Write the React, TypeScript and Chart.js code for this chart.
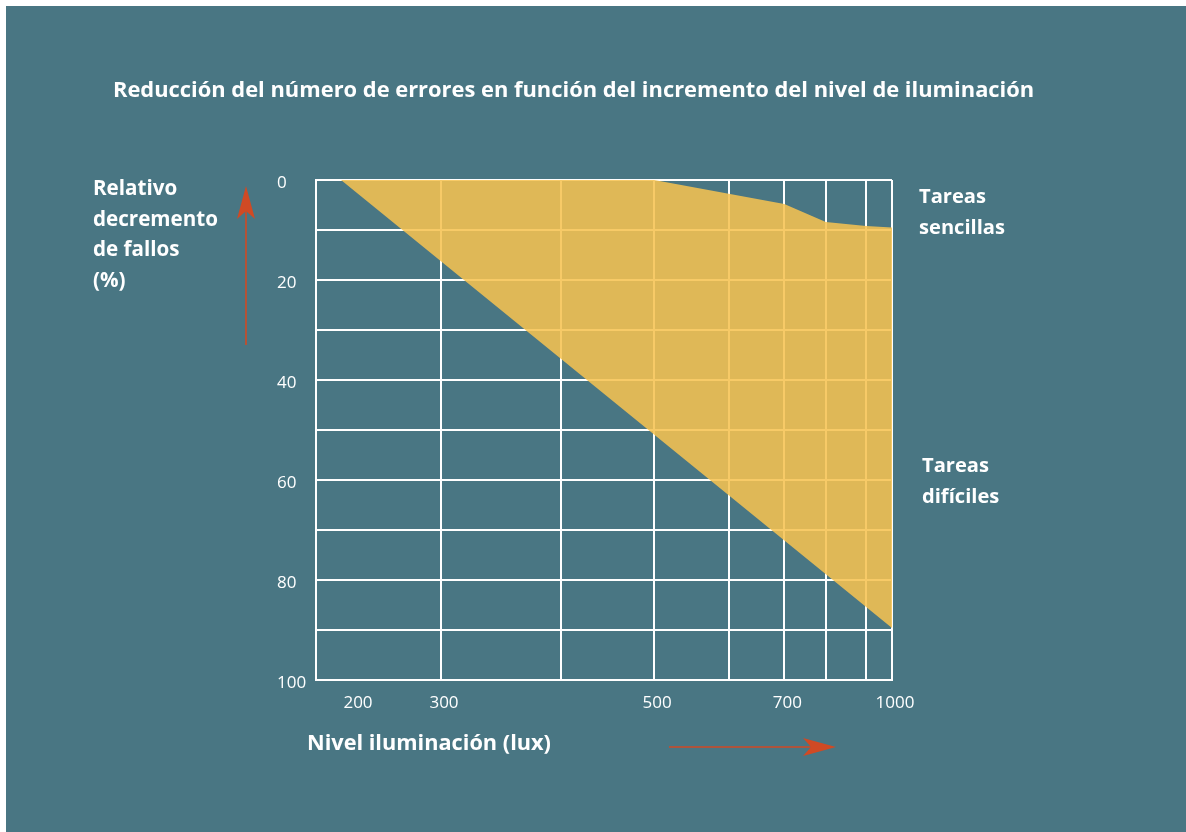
import { useEffect, useRef } from 'react';
import { Chart, LinearScale, registerables } from 'chart.js';

// ---- data ----
const X_TICKS = [150, 200, 300, 400, 500, 600, 700, 800, 900, 1000];
const X_LABELED = [200, 300, 500, 700, 1000];
const SIMPLE_LUX = [182, 500, 700, 800, 900, 1000];
const SIMPLE_PCT = [0, 0, 4.8, 8.4, 9.2, 9.5];
const HARD_LUX = [182, 1000];
const HARD_PCT = [0, 89.6];

const TITLE = 'Reducción del número de errores en función del incremento del nivel de iluminación';
const Y_CAPTION = ['Relativo', 'decremento', 'de fallos', '(%)'];
const X_CAPTION = 'Nivel iluminación (lux)';
const SIMPLE_LABEL = ['Tareas', 'sencillas'];
const HARD_LABEL = ['Tareas', 'difíciles'];

// hand-drawn, non-uniform lux axis (value -> fraction of axis length)
const WARP_LUX = [150, 200, 300, 400, 500, 600, 700, 800, 900, 1000];
const WARP_POS = [0, 0.0677, 0.217, 0.425, 0.587, 0.717, 0.813, 0.885, 0.955, 1];

const TEAL = '#497683';
const ARROW = '#D04A24';
const FONT = '"Open Sans", "DejaVu Sans", sans-serif';

function interp(xs: number[], ys: number[], v: number) {
  const n = xs.length;
  let i = 0;
  if (v <= xs[0]) i = 0;
  else if (v >= xs[n - 1]) i = n - 2;
  else {
    while (i < n - 2 && v > xs[i + 1]) i++;
  }
  const t = (v - xs[i]) / (xs[i + 1] - xs[i]);
  return ys[i] + t * (ys[i + 1] - ys[i]);
}

class WarpedScale extends LinearScale {
  static id = 'warped';
  static defaults = LinearScale.defaults;
  getPixelForValue(value: any) {
    if (value === null || value === undefined || isNaN(value)) return NaN;
    return this.getPixelForDecimal(interp(WARP_LUX, WARP_POS, +value));
  }
  getValueForPixel(pixel: number) {
    return interp(WARP_POS, WARP_LUX, this.getDecimalForPixel(pixel));
  }
}

Chart.register(...registerables, WarpedScale as any);

function fitSize(ctx: CanvasRenderingContext2D, text: string, width: number) {
  ctx.font = `bold 20px ${FONT}`;
  const w = ctx.measureText(text).width;
  return (20 * width) / w;
}

function drawArrow(ctx: CanvasRenderingContext2D, x1: number, y1: number, x2: number, y2: number) {
  const len = Math.hypot(x2 - x1, y2 - y1);
  const ux = (x2 - x1) / len, uy = (y2 - y1) / len;
  const px = -uy, py = ux;
  const headLen = 33, half = 9, notch = 8;
  ctx.save();
  ctx.strokeStyle = ARROW;
  ctx.fillStyle = ARROW;
  ctx.lineWidth = 1.6;
  ctx.beginPath();
  ctx.moveTo(x1, y1);
  ctx.lineTo(x2 - ux * (headLen - notch), y2 - uy * (headLen - notch));
  ctx.stroke();
  const bx = x2 - ux * headLen, by = y2 - uy * headLen;
  ctx.beginPath();
  ctx.moveTo(x2, y2);
  ctx.lineTo(bx + px * half, by + py * half);
  ctx.lineTo(x2 - ux * (headLen - notch), y2 - uy * (headLen - notch));
  ctx.lineTo(bx - px * half, by - py * half);
  ctx.closePath();
  ctx.fill();
  ctx.restore();
}

const decor = {
  id: 'decor',
  beforeDraw(chart: any) {
    const ctx = chart.ctx as CanvasRenderingContext2D;
    ctx.save();
    ctx.fillStyle = '#ffffff';
    ctx.fillRect(0, 0, chart.width, chart.height);
    ctx.fillStyle = TEAL;
    ctx.fillRect(6, 6, chart.width - 6, chart.height - 6);
    ctx.restore();
  },
  afterDraw(chart: any) {
    const ctx = chart.ctx as CanvasRenderingContext2D;
    ctx.save();
    ctx.fillStyle = '#ffffff';
    ctx.textAlign = 'left';
    ctx.textBaseline = 'alphabetic';

    let s = fitSize(ctx, TITLE, 922);
    ctx.font = `bold ${s}px ${FONT}`;
    ctx.fillText(TITLE, 113, 97);

    s = fitSize(ctx, Y_CAPTION[1], 125);
    ctx.font = `bold ${s}px ${FONT}`;
    Y_CAPTION.forEach((t, i) => ctx.fillText(t, 93, 195 + i * 30.5));

    s = fitSize(ctx, SIMPLE_LABEL[1], 86);
    ctx.font = `bold ${s}px ${FONT}`;
    SIMPLE_LABEL.forEach((t, i) => ctx.fillText(t, 919, 203 + i * 30.5));
    HARD_LABEL.forEach((t, i) => ctx.fillText(t, 922, 472 + i * 30.5));

    s = fitSize(ctx, X_CAPTION, 244);
    ctx.font = `bold ${s}px ${FONT}`;
    ctx.fillText(X_CAPTION, 307, 750);
    ctx.restore();

    drawArrow(ctx, 246, 345, 246, 186);
    drawArrow(ctx, 669, 747, 836, 747);
  },
};

export default function App() {
  const ref = useRef<HTMLCanvasElement>(null);
  useEffect(() => {
    if (!ref.current) return;
    const chart = new Chart(ref.current, {
      type: 'line',
      data: {
        datasets: [
          {
            label: SIMPLE_LABEL.join(' '),
            data: SIMPLE_LUX.map((x, i) => ({ x, y: SIMPLE_PCT[i] })),
            borderWidth: 0,
            pointRadius: 0,
            fill: false,
          },
          {
            label: HARD_LABEL.join(' '),
            data: HARD_LUX.map((x, i) => ({ x, y: HARD_PCT[i] })),
            borderWidth: 0,
            pointRadius: 0,
            backgroundColor: 'rgba(246,194,80,0.87)',
            fill: '-1',
          },
        ],
      },
      options: {
        animation: false,
        responsive: false,
        maintainAspectRatio: false,
        layout: { padding: { left: 277, top: 180, right: 294, bottom: 122 } },
        plugins: {
          legend: { display: false },
          tooltip: { enabled: false },
          title: { display: false },
        },
        scales: {
          x: {
            type: 'warped' as any,
            min: 150,
            max: 1000,
            afterBuildTicks: (sc: any) => {
              sc.ticks = X_TICKS.map((v) => ({ value: v }));
            },
            afterFit: (sc: any) => {
              sc.height = 30;
            },
            grid: {
              color: (c: any) => (c.tick && c.tick.value === 200 ? 'rgba(0,0,0,0)' : '#ffffff'),
              lineWidth: 2,
              drawTicks: false,
            },
            border: { color: '#ffffff', width: 2 },
            ticks: {
              autoSkip: false,
              maxRotation: 0,
              padding: 13,
              labelOffset: 3,
              color: '#ffffff',
              font: { family: FONT, size: 17 },
              callback: (v: any) => (X_LABELED.includes(+v) ? String(v) : ''),
            },
          },
          y: {
            type: 'linear',
            reverse: true,
            min: 0,
            max: 100,
            afterFit: (sc: any) => {
              sc.width = 39;
            },
            grid: { color: '#ffffff', lineWidth: 2, drawTicks: false },
            border: { color: '#ffffff', width: 2 },
            ticks: {
              stepSize: 10,
              crossAlign: 'far',
              padding: 0,
              labelOffset: 3,
              color: '#ffffff',
              font: { family: FONT, size: 17 },
              callback: (v: any) => (+v % 20 === 0 ? String(v) : ''),
            },
          },
        },
      },
      plugins: [decor],
    });
    return () => chart.destroy();
  }, []);
  return (
    <canvas
      ref={ref}
      width={1186}
      height={832}
      style={{ position: 'fixed', left: 0, top: 0, width: 1186, height: 832, display: 'block' }}
    />
  );
}
